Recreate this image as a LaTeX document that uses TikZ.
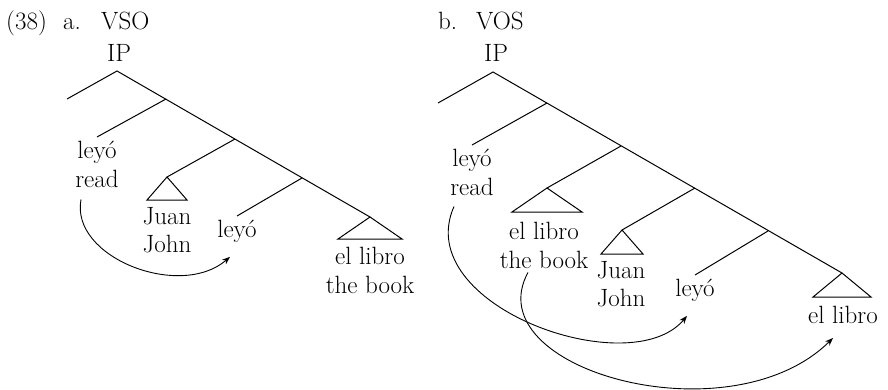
\documentclass[tikz,border=0pt]{standalone}
\usetikzlibrary{positioning,arrows.meta}

\begin{document}
\begin{tikzpicture}[x=1pt, y=-1pt, >={Stealth[length=8pt,width=6pt]},
    font=\fontsize{25}{28.5}\selectfont,
    branch/.style={line width=1pt},
    leaf/.style={anchor=north, align=center, inner sep=4pt},
    heading/.style={anchor=base west, inner sep=0pt},
    movement/.style={->, line width=0.9pt}]

\useasboundingbox (0,0) rectangle (888,390);

% Headings
\node[heading] (num) at (6,30) {(38)};
\node[heading] (a-lab) at (63,30) {a.};
\node[heading] (a-ord) at (101,30) {VSO};
\node[heading] (b-lab) at (438,30) {b.};
\node[heading] (b-ord) at (476,30) {VOS};

% Tree a
\node[anchor=base, inner sep=0pt] (a-ip) at (119,62) {IP};
\coordinate (a0) at (117,71);
\coordinate (a-spec) at (67,99);
\coordinate (a1) at (166,99);
\coordinate (a2) at (235,139);
\coordinate (a3) at (302,178);
\coordinate (a-subj) at (167,177);
\coordinate (a-obj) at (370,217);

\node[leaf] (a-v) at (97,137) {ley\'o\\read};
\node[leaf] (a-s) at (167,203) {Juan\\John};
\node[leaf] (a-lv) at (237,216) {ley\'o};
\node[leaf] (a-o) at (370,243) {el libro\\the book};

\draw[branch] (a-spec) -- (a0) -- (a-obj);
\foreach \from/\to in {a1/a-v.north, a2/a-subj, a3/a-lv.north}
    \draw[branch] (\from) -- (\to);
\draw[branch] (a-subj) -- ++(-20,23) -- ++(40,0) -- cycle;
\draw[branch] (a-obj) -- ++(-32,22) -- ++(64,0) -- cycle;

% Tree b
\node[anchor=base, inner sep=0pt] (b-ip) at (496,62) {IP};
\coordinate (b0) at (493,72);
\coordinate (b-spec) at (438,103);
\coordinate (b1) at (547,103);
\coordinate (b2) at (621,146);
\coordinate (b3) at (695,188);
\coordinate (b4) at (768,231);
\coordinate (b-obj) at (547,188);
\coordinate (b-subj) at (622,230);
\coordinate (b-end) at (842,273);

\node[leaf] (b-v) at (472,145) {ley\'o\\read};
\node[leaf] (b-o) at (544,218) {el libro\\the book};
\node[leaf] (b-s) at (621,257) {Juan\\John};
\node[leaf] (b-lv) at (695,275) {ley\'o};
\node[leaf] (b-lo) at (843,302) {el libro};

\draw[branch] (b-spec) -- (b0) -- (b-end);
\foreach \from/\to in {b1/b-v.north, b2/b-obj, b3/b-subj, b4/b-lv.north}
    \draw[branch] (\from) -- (\to);
\draw[branch] (b-obj) -- ++(-35,24) -- ++(70,0) -- cycle;
\draw[branch] (b-subj) -- ++(-21,24) -- ++(42,0) -- cycle;
\draw[branch] (b-end) -- ++(-29,24) -- ++(58,0) -- cycle;

% Movement arrows
\draw[movement] ([xshift=-16pt,yshift=-8pt]a-v.south)
    .. controls +(-11,58) and +(-50,43) .. ([xshift=-7pt,yshift=-10pt]a-lv.south);
\draw[movement] ([xshift=-18pt,yshift=-7pt]b-v.south)
    .. controls +(-44,99) and +(-57,68) .. ([xshift=-8pt,yshift=-10pt]b-lv.south);
\draw[movement] ([xshift=-16pt]b-o.south)
    .. controls +(-53,97) and +(-103,102) .. ([xshift=-10pt,yshift=-10pt]b-lo.south);

\end{tikzpicture}
\end{document}
